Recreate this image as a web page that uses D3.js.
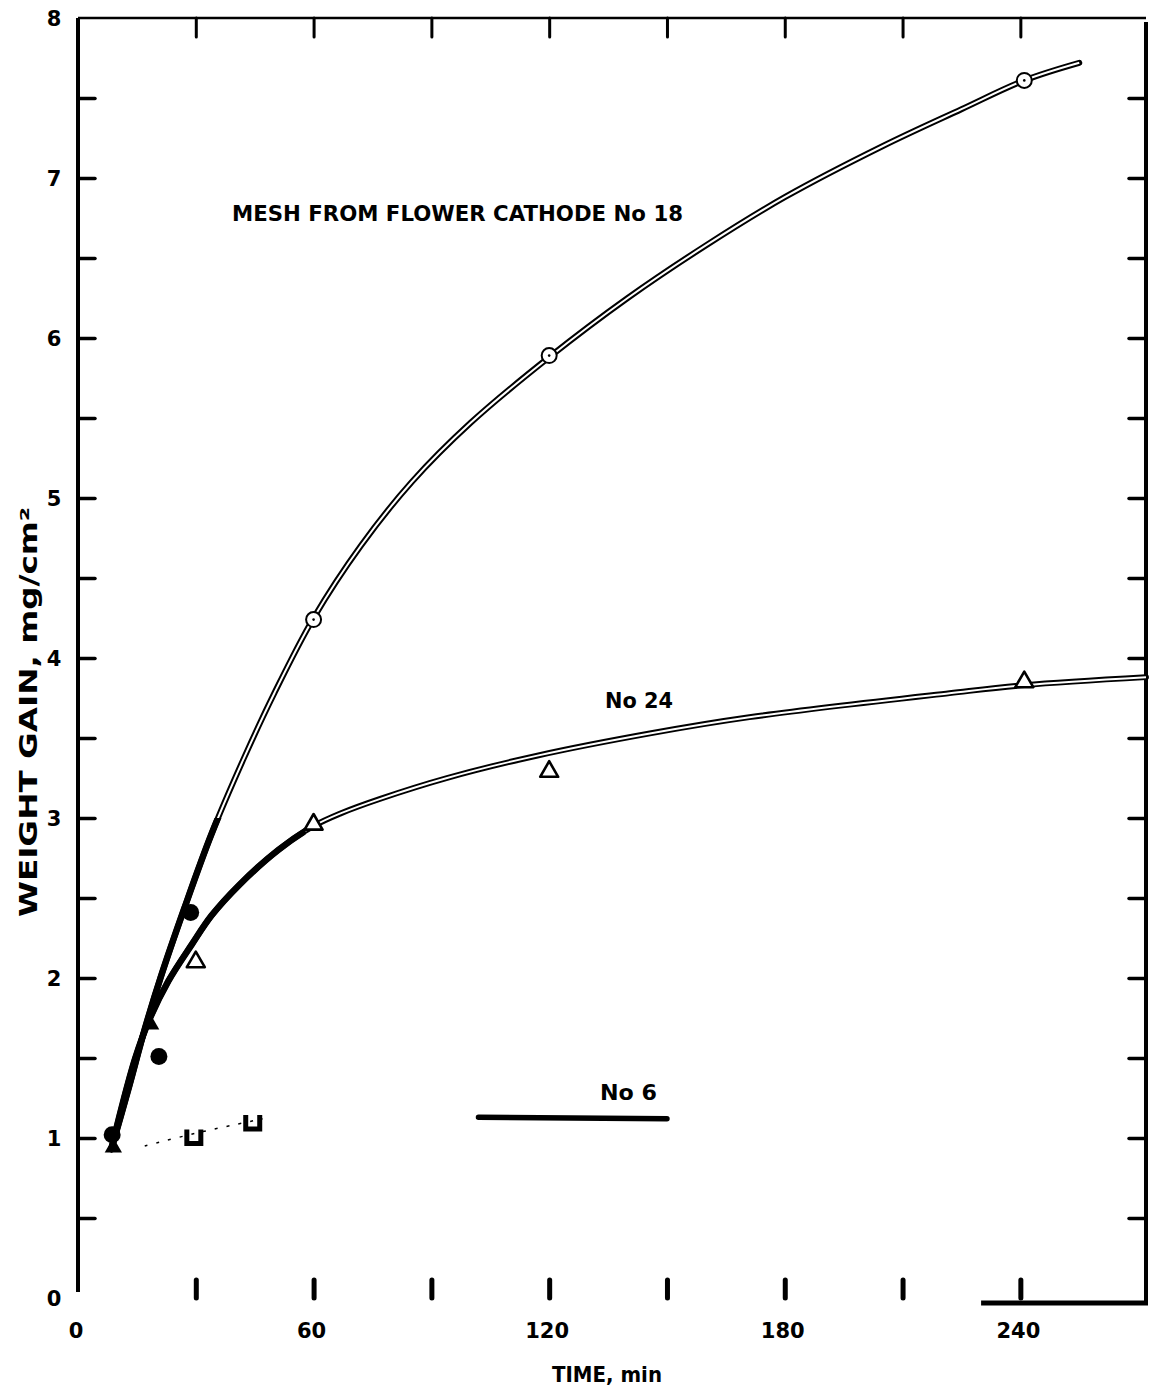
<!DOCTYPE html>
<html>
<head>
<meta charset="utf-8">
<script src="https://cdn.jsdelivr.net/npm/d3@7"></script>
<style>
  html, body { margin: 0; padding: 0; background: #fff; }
  svg { display: block; }
  text { font-family: "DejaVu Sans", "Liberation Sans", sans-serif; fill: #000; }
</style>
</head>
<body>
<svg id="chart" width="1152" height="1388"></svg>
<script>
// Weight gain (mg/cm²) vs oxidation time (min) for flower-cathode mesh samples.

// Axis ticks
const xTickValues = [30, 60, 90, 120, 150, 180, 210, 240];
const xTickLabels = [0, 60, 120, 180, 240];
const yTickValues = [0.5, 1, 1.5, 2, 2.5, 3, 3.5, 4, 4.5, 5, 5.5, 6, 6.5, 7, 7.5];
const yTickLabels = [0, 1, 2, 3, 4, 5, 6, 7, 8];

// No 18: smooth curve [time, gain]
const curveNo18 = [[8.5,0.93],[13,1.32],[17,1.68],[21,2.00],[27,2.43],[34,2.90],[42,3.36],[50,3.78],[60,4.25],[72,4.70],[85,5.10],[100,5.47],[120,5.88],[140,6.25],[160,6.58],[180,6.88],[205,7.20],[225,7.43],[241,7.61],[255,7.72]];
// No 18: measured points
const no18Solid = [[8.7,1.02],[20.6,1.51],[28.7,2.41]];
const no18Open = [[60,4.24],[120,5.89],[241,7.61]];

// No 24: smooth curve
const curveNo24 = [[8.5,0.93],[11,1.18],[14.6,1.50],[18,1.73],[23,1.98],[29,2.21],[34,2.39],[41,2.58],[51,2.80],[60,2.95],[67,3.03],[77,3.12],[94,3.25],[117,3.39],[146,3.53],[171,3.63],[222,3.78],[241,3.83],[272,3.88]];
// No 24: measured points
const no24Solid = [[9,0.94],[18.5,1.71]];
const no24Open = [[30,2.10],[60,2.96],[120,3.29],[241,3.85]];

// No 6: measured points, faint early trace and the later level segment
const no6Points = [[29.5,1.01],[44.5,1.10]];
const no6Trace = [[17,0.95],[30,1.03],[47,1.12]];
const no6Level = [[102,1.13],[150,1.12]];

const svg = d3.select("#chart");
const x = d3.scaleLinear().domain([0, 272]).range([78, 1146]);
const y = d3.scaleLinear().domain([0, 8]).range([1298, 18]);

svg.append("rect").attr("width", 1152).attr("height", 1388).attr("fill", "#fff");

// Frame
const frame = svg.append("g").attr("stroke", "#000").attr("fill", "none");
frame.append("line").attr("x1", x(0)).attr("x2", x(272)).attr("y1", y(8)).attr("y2", y(8)).attr("stroke-width", 2.5);
frame.append("line").attr("x1", x(0)).attr("x2", x(0)).attr("y1", y(8)).attr("y2", y(0) - 6).attr("stroke-width", 4);
frame.append("line").attr("x1", x(272)).attr("x2", x(272)).attr("y1", y(8) + 4).attr("y2", y(0) + 7).attr("stroke-width", 4);
frame.append("line").attr("x1", x(230)).attr("x2", x(272) + 2).attr("y1", y(0) + 5).attr("y2", y(0) + 5).attr("stroke-width", 5);

// Ticks via d3 axes, pointing inward
const tickStyle = g => {
  g.select(".domain").remove();
  g.selectAll(".tick text").remove();
  g.selectAll(".tick line").attr("stroke", "#000").attr("stroke-linecap", "round");
};
svg.append("g").attr("transform", `translate(${x(0)},0)`)
  .call(d3.axisRight(y).tickValues(yTickValues).tickSize(17)).call(tickStyle)
  .selectAll(".tick line").attr("stroke-width", 3.5);
svg.append("g").attr("transform", `translate(${x(272)},0)`)
  .call(d3.axisLeft(y).tickValues(yTickValues).tickSize(17)).call(tickStyle)
  .selectAll(".tick line").attr("stroke-width", 3.5);
svg.append("g").attr("transform", `translate(0,${y(8)})`)
  .call(d3.axisBottom(x).tickValues(xTickValues).tickSize(19)).call(tickStyle)
  .selectAll(".tick line").attr("stroke-width", 3);
svg.append("g").attr("transform", `translate(0,${y(0)})`)
  .call(d3.axisTop(x).tickValues(xTickValues).tickSize(18)).call(tickStyle)
  .selectAll(".tick line").attr("stroke-width", 5);

// Tick labels
svg.append("g").selectAll("text").data(yTickLabels).join("text")
  .attr("x", 54).attr("y", d => y(d) + 7.5)
  .attr("text-anchor", "middle").attr("font-size", 21).attr("font-weight", "bold")
  .text(d => d);
svg.append("g").selectAll("text").data(xTickLabels).join("text")
  .attr("x", d => x(d) - 2).attr("y", 1338)
  .attr("text-anchor", "middle").attr("font-size", 21).attr("font-weight", "bold")
  .text(d => d);

// Axis titles
svg.append("text").attr("x", 552).attr("y", 1382)
  .attr("font-size", 21).attr("font-weight", "bold")
  .attr("textLength", 110).attr("lengthAdjust", "spacingAndGlyphs").text("TIME, min");
svg.append("text").attr("transform", "translate(37,712) rotate(-90)")
  .attr("text-anchor", "middle").attr("font-size", 24).attr("font-weight", "bold")
  .attr("textLength", 410).attr("lengthAdjust", "spacingAndGlyphs")
  .text("WEIGHT GAIN, mg/cm²");

// Curves
const line = d3.line().x(d => x(d[0])).y(d => y(d[1])).curve(d3.curveCatmullRom.alpha(0.5));
const defs = svg.append("defs");
defs.append("clipPath").attr("id", "upper18").append("rect")
  .attr("x", 0).attr("y", 0).attr("width", 1152).attr("height", y(3.0));
defs.append("clipPath").attr("id", "lower18").append("rect")
  .attr("x", 0).attr("y", y(3.0)).attr("width", 1152).attr("height", 1388);
defs.append("clipPath").attr("id", "upper24").append("rect")
  .attr("x", x(58)).attr("y", 0).attr("width", 1152).attr("height", 1388);
defs.append("clipPath").attr("id", "lower24").append("rect")
  .attr("x", 0).attr("y", 0).attr("width", x(58)).attr("height", 1388);

// No 18: heavy solid trace low down, hollow double-line trace higher up
svg.append("path").attr("d", line(curveNo18)).attr("fill", "none")
  .attr("stroke", "#000").attr("stroke-width", 6).attr("stroke-linecap", "round");
svg.append("path").attr("d", line(curveNo18)).attr("fill", "none").attr("clip-path", "url(#lower18)")
  .attr("stroke", "#000").attr("stroke-width", 6.5).attr("stroke-linecap", "round");
svg.append("path").attr("d", line(curveNo18)).attr("fill", "none").attr("clip-path", "url(#upper18)")
  .attr("stroke", "#fff").attr("stroke-width", 2);

// No 24
svg.append("path").attr("d", line(curveNo24)).attr("fill", "none")
  .attr("stroke", "#000").attr("stroke-width", 5.8).attr("stroke-linecap", "round");
svg.append("path").attr("d", line(curveNo24)).attr("fill", "none").attr("clip-path", "url(#lower24)")
  .attr("stroke", "#000").attr("stroke-width", 6.5).attr("stroke-linecap", "round");
svg.append("path").attr("d", line(curveNo24)).attr("fill", "none").attr("clip-path", "url(#upper24)")
  .attr("stroke", "#fff").attr("stroke-width", 1.9);

// No 6 traces
svg.append("path").attr("d", line(no6Trace)).attr("fill", "none")
  .attr("stroke", "#000").attr("stroke-width", 1.5).attr("stroke-dasharray", "3 9");
svg.append("path").attr("d", d3.line().x(d => x(d[0])).y(d => y(d[1]))(no6Level)).attr("fill", "none")
  .attr("stroke", "#000").attr("stroke-width", 5.5).attr("stroke-linecap", "round");

// Markers
const tri = d3.symbol().type(d3.symbolTriangle);
svg.append("g").selectAll("circle").data(no18Solid).join("circle")
  .attr("cx", d => x(d[0])).attr("cy", d => y(d[1])).attr("r", 8.5).attr("fill", "#000");
const openCircles = svg.append("g").selectAll("g").data(no18Open).join("g")
  .attr("transform", d => `translate(${x(d[0])},${y(d[1])})`);
openCircles.append("circle").attr("r", 7.5).attr("fill", "#fff").attr("stroke", "#000").attr("stroke-width", 2);
openCircles.append("circle").attr("r", 1.3).attr("fill", "#000");

svg.append("g").selectAll("path").data(no24Solid).join("path")
  .attr("transform", d => `translate(${x(d[0])},${y(d[1])})`)
  .attr("d", tri.size(130)()).attr("fill", "#000");
svg.append("g").selectAll("path").data(no24Open).join("path")
  .attr("transform", d => `translate(${x(d[0])},${y(d[1])})`)
  .attr("d", tri.size(140)()).attr("fill", "#fff").attr("stroke", "#000").attr("stroke-width", 2.6)
  .attr("stroke-linejoin", "round");

// No 6 markers: squares with a worn-away top edge
svg.append("g").selectAll("path").data(no6Points).join("path")
  .attr("transform", d => `translate(${x(d[0])},${y(d[1])})`)
  .attr("d", "M-7,-7 L-7,7 L7,7 L7,-7").attr("fill", "none")
  .attr("stroke", "#000").attr("stroke-width", 5);

// Series labels
svg.append("text").attr("x", 232).attr("y", 221)
  .attr("font-size", 22).attr("font-family", "Liberation Sans, sans-serif").attr("font-weight", "bold")
  .attr("textLength", 451).attr("lengthAdjust", "spacingAndGlyphs")
  .text("MESH FROM FLOWER CATHODE No 18");
svg.append("text").attr("x", 605).attr("y", 708)
  .attr("font-size", 21).attr("font-weight", "bold")
  .attr("textLength", 68).attr("lengthAdjust", "spacingAndGlyphs").text("No 24");
svg.append("text").attr("x", 600).attr("y", 1100)
  .attr("font-size", 21).attr("font-weight", "bold")
  .attr("textLength", 57).attr("lengthAdjust", "spacingAndGlyphs").text("No 6");
</script>
</body>
</html>
